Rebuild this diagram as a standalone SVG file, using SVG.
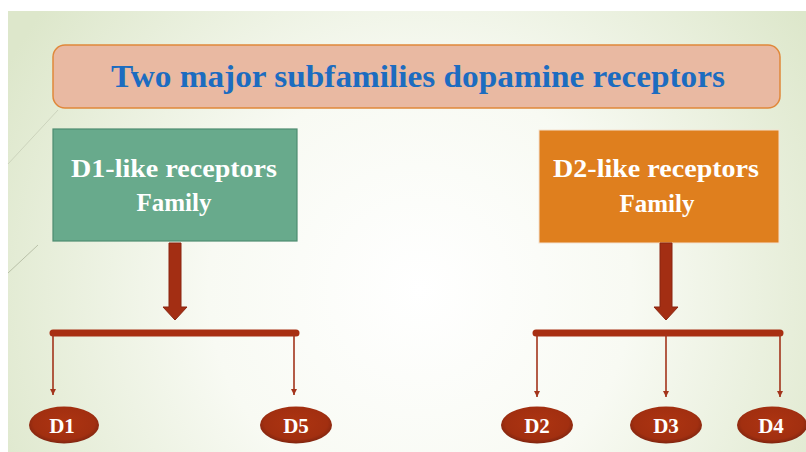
<svg xmlns="http://www.w3.org/2000/svg" width="806" height="452" viewBox="0 0 806 452">
  <defs>
    <radialGradient id="bg" gradientUnits="userSpaceOnUse" cx="420" cy="290" r="470">
      <stop offset="0" stop-color="#ffffff"/>
      <stop offset="0.45" stop-color="#f8faf3"/>
      <stop offset="1" stop-color="#dde7cb"/>
    </radialGradient>
    <radialGradient id="ell" cx="0.5" cy="0.45" r="0.55">
      <stop offset="0" stop-color="#ad3411"/>
      <stop offset="0.8" stop-color="#a22f10"/>
      <stop offset="1" stop-color="#7f2510"/>
    </radialGradient>
    <marker id="tip" viewBox="0 0 10 10" refX="10" refY="5" markerWidth="4" markerHeight="4" orient="auto" markerUnits="strokeWidth">
      <path d="M0,0 L10,5 L0,10 Z" fill="#a3341b"/>
    </marker>
  </defs>
  <style>
    .serif { font-family: "Liberation Serif", "Times New Roman", serif; font-weight: bold; }
    .boxtxt { fill: #ffffff; font-size: 25px; }
    .elltxt { fill: #ffffff; font-size: 21px; }
    .bar { stroke: #a82f12; stroke-width: 7; stroke-linecap: round; fill: none; }
    .thin { stroke: #a3341b; stroke-width: 1.6; fill: none; marker-end: url(#tip); }
    .big { fill: #a32e13; stroke: #8a2510; stroke-width: 1; }
    .oval { fill: url(#ell); }
  </style>

  <rect x="0" y="0" width="806" height="452" fill="#ffffff"/>
  <rect x="8" y="11" width="798" height="441" fill="url(#bg)"/>
  <line x1="8" y1="164" x2="58" y2="110" stroke="#cdd4bd" stroke-width="1"/>
  <line x1="8" y1="273" x2="38" y2="245" stroke="#b9c0a8" stroke-width="1"/>

  <g id="title">
    <rect x="53" y="45" width="727" height="63" rx="12" fill="#e9b9a2" stroke="#e0883a" stroke-width="1.5"/>
    <text class="serif" x="418" y="87" text-anchor="middle" font-size="32" fill="#1c6cc0" textLength="614" lengthAdjust="spacingAndGlyphs">Two major subfamilies dopamine receptors</text>
  </g>

  <g id="d1like">
    <rect x="53" y="129" width="244" height="112" fill="#68aa8c" stroke="#4e8c70" stroke-width="1.2"/>
    <text class="serif boxtxt" x="174" y="177" text-anchor="middle" textLength="206" lengthAdjust="spacingAndGlyphs">D1-like receptors</text>
    <text class="serif boxtxt" x="174" y="211" text-anchor="middle">Family</text>
  </g>

  <g id="d2like">
    <rect x="539" y="130" width="240" height="113" fill="#df7f1e" stroke="#f4e2cf" stroke-width="1"/>
    <text class="serif boxtxt" x="656" y="177" text-anchor="middle" textLength="206" lengthAdjust="spacingAndGlyphs">D2-like receptors</text>
    <text class="serif boxtxt" x="657" y="212" text-anchor="middle">Family</text>
  </g>

  <g id="connectors">
    <path class="big" d="M169,243 H181 V307 H187 L175,320 L163,307 H169 Z"/>
    <path class="big" d="M660,243 H672 V307 H678 L666,320 L654,307 H660 Z"/>
    <line class="bar" x1="53" y1="333" x2="296" y2="333"/>
    <line class="bar" x1="536" y1="333" x2="780" y2="333"/>
    <line class="thin" x1="53" y1="334" x2="53" y2="395"/>
    <line class="thin" x1="294" y1="334" x2="294" y2="395"/>
    <line class="thin" x1="537" y1="334" x2="537" y2="397"/>
    <line class="thin" x1="666" y1="334" x2="666" y2="397"/>
    <line class="thin" x1="780" y1="334" x2="780" y2="397"/>
  </g>

  <g id="D1">
    <ellipse class="oval" cx="64" cy="425" rx="35" ry="18.5"/>
    <text class="serif elltxt" x="62" y="433" text-anchor="middle">D1</text>
  </g>
  <g id="D5">
    <ellipse class="oval" cx="296" cy="425" rx="36" ry="18.5"/>
    <text class="serif elltxt" x="296" y="433" text-anchor="middle">D5</text>
  </g>
  <g id="D2">
    <ellipse class="oval" cx="537" cy="425" rx="36" ry="18.5"/>
    <text class="serif elltxt" x="537" y="433" text-anchor="middle">D2</text>
  </g>
  <g id="D3">
    <ellipse class="oval" cx="666" cy="425" rx="36" ry="18.5"/>
    <text class="serif elltxt" x="666" y="433" text-anchor="middle">D3</text>
  </g>
  <g id="D4">
    <ellipse class="oval" cx="772" cy="425" rx="35" ry="18.5"/>
    <text class="serif elltxt" x="771" y="433" text-anchor="middle">D4</text>
  </g>
</svg>
